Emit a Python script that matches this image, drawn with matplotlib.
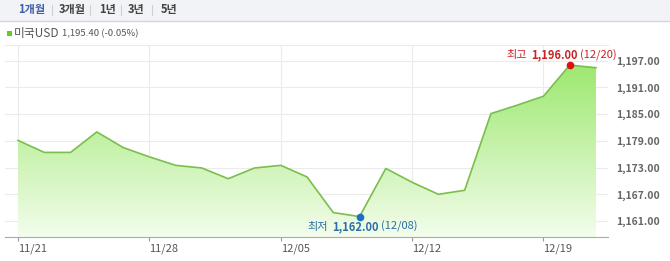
import matplotlib
matplotlib.use("Agg")
import matplotlib.pyplot as plt
import numpy as np
from matplotlib.colors import LinearSegmentedColormap
from matplotlib.patches import Rectangle

plt.rcParams['font.family'] = ['Noto Sans CJK KR', 'DejaVu Sans']

# trading days, 2016-11-21 .. 2016-12-21
dates = ['11/21', '11/22', '11/23', '11/24', '11/25',
         '11/28', '11/29', '11/30', '12/01', '12/02',
         '12/05', '12/06', '12/07', '12/08', '12/09',
         '12/12', '12/13', '12/14', '12/15', '12/16',
         '12/19', '12/20', '12/21']
usd = [1179.1, 1176.4, 1176.4, 1181.0, 1177.5,
       1175.4, 1173.5, 1172.9, 1170.5, 1172.9,
       1173.5, 1170.9, 1162.9, 1162.0, 1172.8,
       1169.7, 1167.0, 1167.9, 1185.1, 1187.0,
       1189.0, 1196.0, 1195.4]
x_ticks = ['11/21', '11/28', '12/05', '12/12', '12/19']
y_ticks = [1161, 1167, 1173, 1179, 1185, 1191, 1197]
tabs = ['1개월', '3개월', '1년', '3년', '5년']

W, H = 670, 261
fig = plt.figure(figsize=(W / 100, H / 100), dpi=100)
ax = fig.add_axes([5 / W, (H - 237) / H, (608 - 5) / W, (237 - 45) / H])

x = np.arange(len(usd))
y = np.array(usd)
ax.set_xlim(-0.495, len(usd) - 1 + 0.457)
ymin, ymax = 1157.42, 1200.5
ax.set_ylim(ymin, ymax)

# gradient fill under the line
poly = ax.fill_between(x, y, ymin, facecolor='none', edgecolor='none')
cmap = LinearSegmentedColormap.from_list('g', ['#f3fdec', '#9ee870'])
grad = np.linspace(0, 1, 256).reshape(-1, 1)
im = ax.imshow(grad, cmap=cmap, origin='lower', aspect='auto',
               extent=[x[0], x[-1], ymin, y.max()], zorder=1)
im.set_clip_path(poly.get_paths()[0], transform=ax.transData)
ax.plot(x, y, color='#7abf4c', lw=1.2, zorder=3)

# grid / ticks
ax.set_yticks(y_ticks)
ax.set_yticklabels([f'{v:,.2f}' for v in y_ticks])
tick_idx = [dates.index(d) for d in x_ticks]
ax.set_xticks(tick_idx)
ax.set_xticklabels(x_ticks, ha='left')
ax.grid(True, color='#ebebeb', lw=0.8, zorder=0)
ax.set_axisbelow(True)
ax.yaxis.tick_right()
ax.tick_params(axis='y', length=0, pad=6, labelsize=7.5, labelcolor='#666666')
for lab in ax.get_yticklabels():
    lab.set_fontweight('bold')
ax.tick_params(axis='x', length=3, color='#999999', pad=2, labelsize=8,
               labelcolor='#555555')
for s in ['left', 'right']:
    ax.spines[s].set_visible(False)
ax.spines['top'].set_color('#ebebeb')
ax.spines['bottom'].set_color('#aaaaaa')

# max / min markers
imax = int(np.argmax(y))
imin = int(np.argmin(y))
ax.plot(x[imax], y[imax], 'o', color='#dd1111', ms=4.5, zorder=5)
ax.plot(x[imin], y[imin], 'o', color='#1f6fc0', ms=4.5, zorder=5)


def label(i, word, color, dx, dy):
    parts = [(word, 'normal', 0), (f'{y[i]:,.2f}', 'bold', 4), (f'({dates[i]})', 'normal', 2)]
    prev = None
    for txt, fw, gap in parts:
        if prev is None:
            prev = ax.annotate(txt, (x[i], y[i]), xytext=(dx, dy), textcoords='offset pixels',
                               fontsize=8, color=color, fontweight=fw, ha='left',
                               va='center', zorder=6, annotation_clip=False)
        else:
            prev = ax.annotate(txt, (1, 0.5), xycoords=prev, xytext=(gap, 0),
                               textcoords='offset pixels', fontsize=8, color=color,
                               fontweight=fw, ha='left', va='center', zorder=6)


label(imax, '최고', '#cc2222', -63, 10)
label(imin, '최저', '#2a6ea6', -52, -10)

# header bar with period tabs
fig.patches.append(Rectangle((0, (H - 21) / H), 1, 21 / H, transform=fig.transFigure,
                             facecolor='#f2f3f6', edgecolor='none', zorder=0))
fig.add_artist(plt.Line2D([0, 1], [(H - 21) / H] * 2, transform=fig.transFigure,
                          color='#d3d6dc', lw=1))
tab_x = [18, 59, 99, 128, 161]
sep_x = [52, 90, 121, 152]
for i, (t, tx) in enumerate(zip(tabs, tab_x)):
    fig.text(tx / W, (H - 10) / H, t, fontsize=8, fontweight='bold',
             color='#3d5fa8' if i == 0 else '#444444', va='center', ha='left')
for sx in sep_x:
    fig.add_artist(plt.Line2D([sx / W] * 2, [(H - 15) / H, (H - 5) / H],
                              transform=fig.transFigure, color='#d0d0d0', lw=0.8))

# legend line
fig.patches.append(Rectangle((7 / W, (H - 36) / H), 5 / W, 5 / H, transform=fig.transFigure,
                             facecolor='#66cc22', edgecolor='none'))
fig.text(14 / W, (H - 34) / H, '미국USD', fontsize=8.5, color='#555555', va='center')
fig.text(62 / W, (H - 34) / H, f'{usd[-1]:,.2f} (-0.05%)', fontsize=6.8, color='#555555',
         va='center')

fig.savefig('out.png', dpi=100)
